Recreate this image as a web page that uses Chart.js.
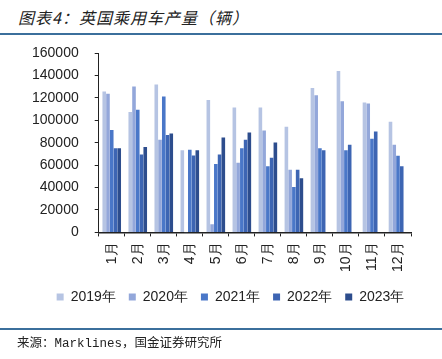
<!DOCTYPE html>
<html>
<head>
<meta charset="utf-8">
<script src="https://cdn.jsdelivr.net/npm/chart.js@4"></script>
<style>
  html, body { margin: 0; padding: 0; background: #fff; }
  #wrap { position: relative; width: 442px; height: 359px; overflow: hidden; }
  #title {
    position: absolute; left: 18px; top: 5px;
    font-family: "Noto Sans CJK SC", sans-serif; font-size: 16px; font-style: italic;
    color: #222; letter-spacing: 1px;
  }
  #topline { position: absolute; left: 0; top: 33px; width: 442px; height: 2px; background: #3b6f9c; }
  #botline { position: absolute; left: 0; top: 328px; width: 442px; height: 2px; background: #3b6f9c; }
  #source {
    position: absolute; left: 17px; top: 332px;
    font-family: "Liberation Mono", "Noto Sans CJK SC", monospace; font-size: 12.5px; color: #222;
  }
  canvas { position: absolute; left: 0; top: 0; }
</style>
</head>
<body>
<div id="wrap">
  <div id="title">图表4：英国乘用车产量（辆）</div>
  <div id="topline"></div>
  <canvas id="barchart" width="442" height="359"></canvas>
  <div id="botline"></div>
  <div id="source">来源：Marklines，国金证券研究所</div>
</div>
<script>
const months = ['1月','2月','3月','4月','5月','6月','7月','8月','9月','10月','11月','12月'];
const years = ['2019年','2020年','2021年','2022年','2023年'];
const v2019 = [125600,107300,131900,73200,118200,111400,111400,94200,128900,144000,115900,98700];
const v2020 = [123600,130100,82700,200,7400,62200,91000,56000,122400,117000,115000,78200];
const v2021 = [91300,109300,121200,73800,61000,75000,59000,40600,75000,73200,83600,68400];
const v2022 = [75000,69600,86800,68700,69600,82700,66700,56000,73200,78200,90100,59000];
const v2023 = [75000,76100,88300,73200,84700,89200,80300,48300,null,null,null,null];
const colors = ['#b6c4e3','#93a7da','#4a77c8','#3d65b3','#2d4d8d'];

const series = [v2019, v2020, v2021, v2022, v2023];

// nudge the legend right so it sits where the original one does
const legendShift = {
    id: 'legendShift',
    afterLayout(chart) {
        chart.legend.left += 17;
        chart.legend.right += 17;
    }
};

const ctx = document.getElementById('barchart').getContext('2d');
const barchart = new Chart(ctx, {
    type: 'bar',
    data: {
        labels: months,
        datasets: series.map((d, i) => ({
            label: years[i],
            data: d,
            backgroundColor: colors[i],
            borderWidth: 0,
            barPercentage: 0.96,
            categoryPercentage: 0.72
        }))
    },
    options: {
        responsive: false,
        animation: false,
        layout: { padding: { top: 53, left: 16, right: 31, bottom: 45 } },
        plugins: {
            tooltip: { enabled: false },
            legend: {
                position: 'bottom',
                labels: {
                    boxWidth: 7, boxHeight: 7, padding: 13,
                    color: '#222',
                    font: { family: 'Liberation Sans, Arial, sans-serif', size: 14 }
                }
            }
        },
        scales: {
            x: {
                afterFit: (scale) => { scale.height -= 1; },
                grid: { display: true, drawOnChartArea: false, offset: true, tickLength: 4, color: '#222' },
                border: { display: true, color: '#222', width: 1.5 },
                ticks: {
                    minRotation: 90, maxRotation: 90, padding: 6,
                    color: '#222',
                    font: { family: 'Liberation Sans, Arial, sans-serif', size: 14 }
                }
            },
            y: {
                min: 0, max: 160000,
                grid: { display: true, drawOnChartArea: false, tickLength: 4, color: '#222' },
                border: { display: true, color: '#222', width: 1 },
                ticks: {
                    stepSize: 20000, padding: 16,
                    color: '#222',
                    callback: (v) => String(v),
                    font: { family: 'Liberation Sans, Arial, sans-serif', size: 14 }
                }
            }
        }
    },
    plugins: [legendShift]
});
</script>
</body>
</html>
